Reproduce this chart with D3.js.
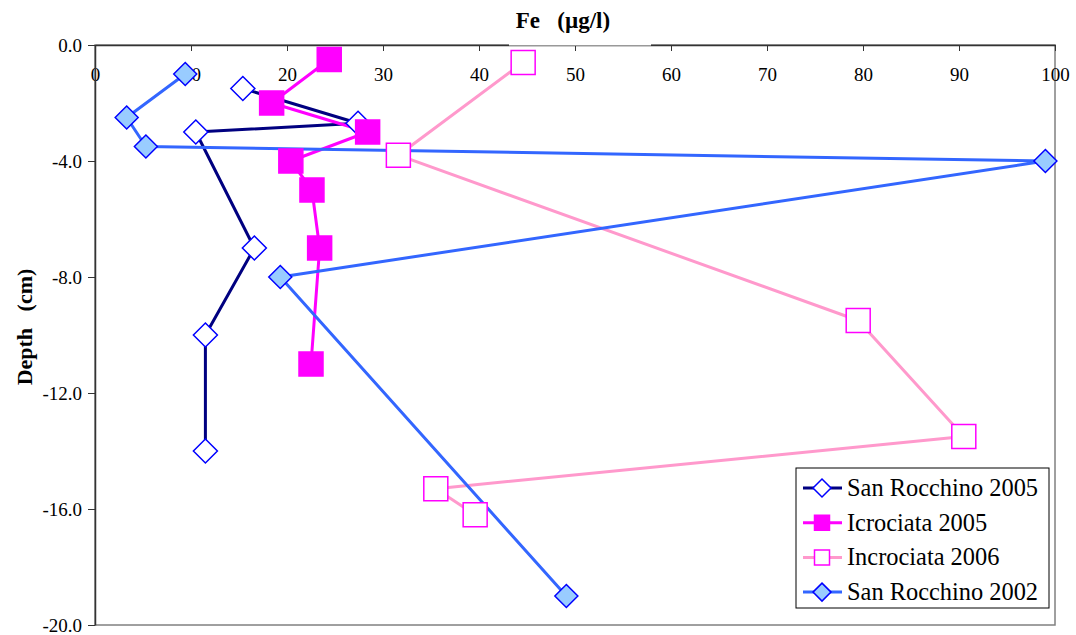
<!DOCTYPE html>
<html>
<head>
<meta charset="utf-8">
<script src="https://cdn.jsdelivr.net/npm/d3@7"></script>
<style>
  body { margin: 0; background: #fff; }
  svg text { font-family: "Liberation Serif", "DejaVu Serif", serif; fill: #000; }
</style>
</head>
<body>
<div id="chart"></div>
<script>
// Fe (ug/l) against depth (cm)
const seriesNames = ["San Rocchino 2005", "Icrociata 2005", "Incrociata 2006", "San Rocchino 2002"];

const sanRocchino2005Fe = [15.4, 27.4, 10.5, 16.6, 11.5, 11.5];
const sanRocchino2005Depth = [-1.5, -2.7, -3.0, -7.0, -10.0, -14.0];

const icrociata2005Fe = [24.4, 18.4, 28.4, 20.4, 22.6, 23.4, 22.5];
const icrociata2005Depth = [-0.5, -2.0, -3.0, -4.0, -5.0, -7.0, -11.0];

const incrociata2006Fe = [44.6, 31.6, 79.5, 90.5, 35.5, 39.6];
const incrociata2006Depth = [-0.6, -3.8, -9.5, -13.5, -15.3, -16.2];

const sanRocchino2002Fe = [9.4, 3.3, 5.3, 99.0, 19.3, 49.1];
const sanRocchino2002Depth = [-1.0, -2.5, -3.5, -4.0, -8.0, -19.0];

const xTicks = [0, 10, 20, 30, 40, 50, 60, 70, 80, 90, 100];
const yTicks = [0, -4, -8, -12, -16, -20];

const width = 1076, height = 635;
const serif = "'Liberation Serif', 'DejaVu Serif', serif";

const svg = d3.select("#chart")
    .append("svg")
    .attr("width", width)
    .attr("height", height);

const x = d3.scaleLinear().domain([0, 100]).range([95, 1055]);
const y = d3.scaleLinear().domain([-20, 0]).range([625, 45]);

const zip = (a, b) => a.map((v, i) => [v, b[i]]);

const series = [
    {name: seriesNames[0], pts: zip(sanRocchino2005Fe, sanRocchino2005Depth),
     line: "#000080", shape: "diamond", fill: "#fff", stroke: "#0000ff", size: 12},
    {name: seriesNames[1], pts: zip(icrociata2005Fe, icrociata2005Depth),
     line: "#ff00ff", shape: "square", fill: "#ff00ff", stroke: "#ff00ff", size: 12},
    {name: seriesNames[2], pts: zip(incrociata2006Fe, incrociata2006Depth),
     line: "#ff99cc", shape: "square", fill: "#fff", stroke: "#ff00ff", size: 12},
    {name: seriesNames[3], pts: zip(sanRocchino2002Fe, sanRocchino2002Depth),
     line: "#3366ff", shape: "diamond", fill: "#99ccff", stroke: "#0000ff", size: 11.5}
];

// plot frame (grey on right and bottom)
svg.append("rect")
    .attr("x", x(0)).attr("y", y(0))
    .attr("width", x(100) - x(0)).attr("height", y(-20) - y(0))
    .attr("fill", "none")
    .attr("stroke", "#808080")
    .attr("stroke-width", 1.5);

// top axis, ticks pointing inwards, labels under them
const xAxis = svg.append("g")
    .attr("transform", `translate(0,${y(0)})`)
    .call(d3.axisBottom(x).tickValues(xTicks).tickSize(6).tickPadding(17).tickSizeOuter(0)
        .tickFormat(d => d));

const yAxis = svg.append("g")
    .attr("transform", `translate(${x(0)},0)`)
    .call(d3.axisLeft(y).tickValues(yTicks).tickSize(7).tickPadding(6).tickSizeOuter(0)
        .tickFormat(d => d.toFixed(1)));

svg.selectAll(".tick text")
    .style("font-family", serif)
    .style("font-size", "19px")
    .attr("fill", "#000");
xAxis.attr("font-family", null);
yAxis.attr("font-family", null);
svg.selectAll(".domain").attr("stroke", "#333").attr("stroke-width", 1.5);
svg.selectAll(".tick line").attr("stroke", "#333");

// title box sits over the top axis line
svg.append("rect")
    .attr("x", 509).attr("y", 0)
    .attr("width", 142).attr("height", 45.5)
    .attr("fill", "#fff");
svg.append("text")
    .attr("x", 563).attr("y", 28)
    .attr("text-anchor", "middle")
    .style("font-family", serif)
    .style("font-weight", "bold")
    .style("font-size", "23px")
    .style("white-space", "pre")
    .text("Fe   (µg/l)");

svg.append("text")
    .attr("transform", "translate(32,327) rotate(-90)")
    .attr("text-anchor", "middle")
    .style("font-family", serif)
    .style("font-weight", "bold")
    .style("font-size", "22px")
    .style("white-space", "pre")
    .text("Depth   (cm)");

const line = d3.line().x(d => x(d[0])).y(d => y(d[1]));

function markerPath(shape, s) {
    if (shape === "diamond") return `M0,${-s}L${s},0L0,${s}L${-s},0Z`;
    return `M${-s},${-s}H${s}V${s}H${-s}Z`;
}

series.forEach(s => {
    svg.append("path")
        .attr("d", line(s.pts))
        .attr("fill", "none")
        .attr("stroke", s.line)
        .attr("stroke-width", 3)
        .attr("stroke-linejoin", "round");
});

series.forEach(s => {
    svg.append("g").selectAll("path")
        .data(s.pts)
        .join("path")
        .attr("transform", d => `translate(${x(d[0])},${y(d[1])})`)
        .attr("d", markerPath(s.shape, s.size))
        .attr("fill", s.fill)
        .attr("stroke", s.stroke)
        .attr("stroke-width", 1.5);
});

// legend
const legend = svg.append("g");
legend.append("rect")
    .attr("x", 796).attr("y", 468)
    .attr("width", 253).attr("height", 140)
    .attr("fill", "#fff")
    .attr("stroke", "#000")
    .attr("stroke-width", 1);

series.forEach((s, i) => {
    const ly = 488 + i * 34.7;
    legend.append("line")
        .attr("x1", 803).attr("x2", 842)
        .attr("y1", ly).attr("y2", ly)
        .attr("stroke", s.line)
        .attr("stroke-width", 3);
    legend.append("path")
        .attr("transform", `translate(822,${ly})`)
        .attr("d", markerPath(s.shape, s.shape === "diamond" ? 9 : 7.5))
        .attr("fill", s.fill)
        .attr("stroke", s.stroke)
        .attr("stroke-width", 1.5);
    legend.append("text")
        .attr("x", 847).attr("y", ly + 8)
        .style("font-family", serif)
        .style("font-size", "24.4px")
        .text(s.name);
});
</script>
</body>
</html>
